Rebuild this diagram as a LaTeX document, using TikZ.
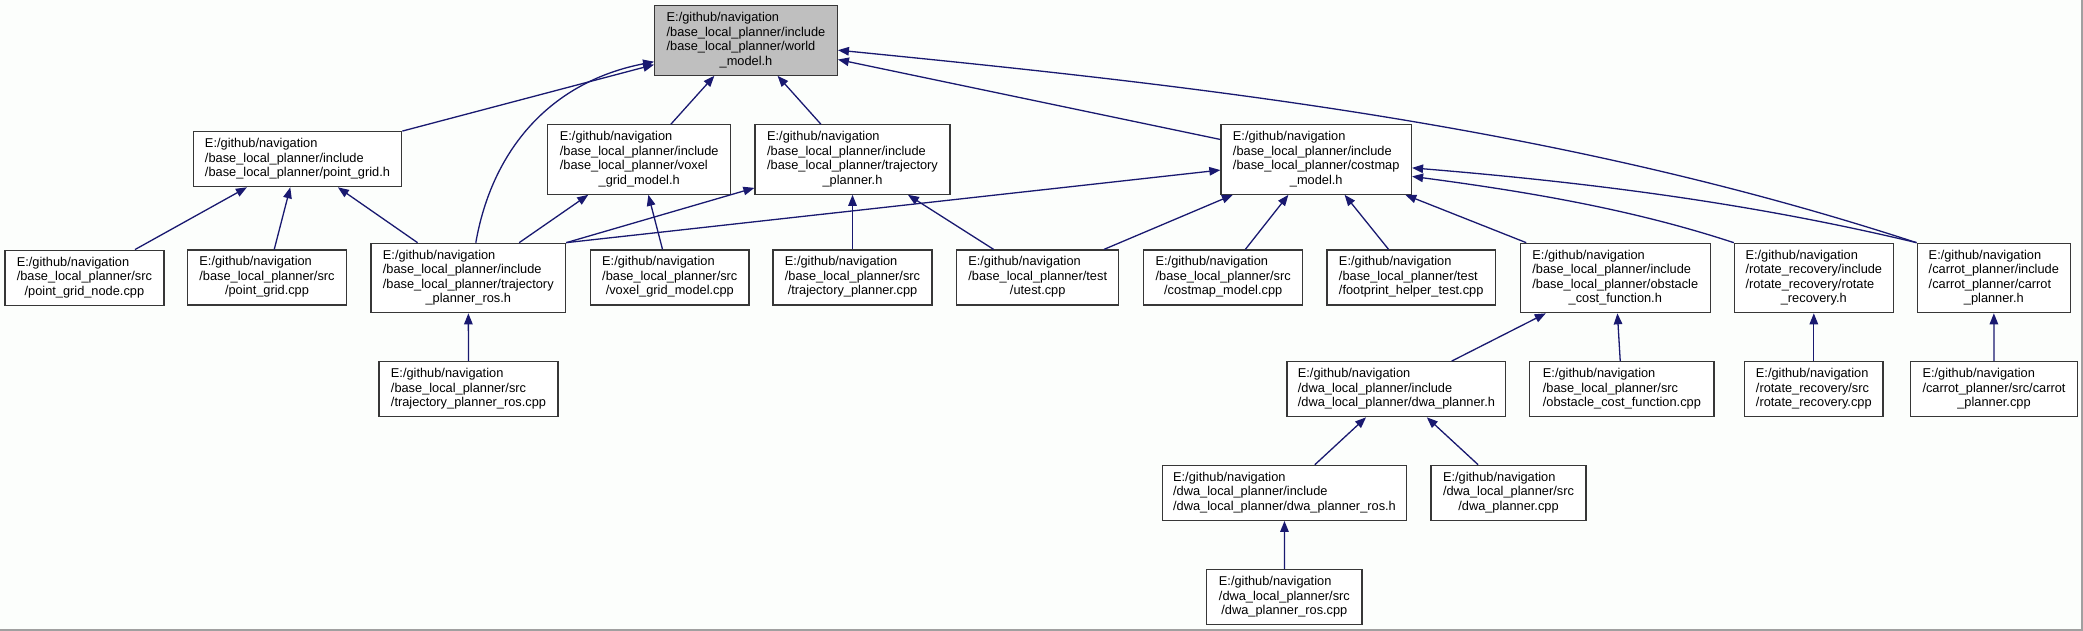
\documentclass[tikz,border=0pt]{standalone}
\usepackage{fontspec}
\setmainfont{Liberation Sans}
\usetikzlibrary{arrows.meta}
\definecolor{edgeblue}{RGB}{25,25,112}
\definecolor{boxline}{RGB}{55,55,55}
\definecolor{rootfill}{RGB}{191,191,191}
\definecolor{bgc}{RGB}{252,254,252}
\definecolor{frameg}{RGB}{160,160,160}
\newcommand{\nlast}[1]{\multicolumn{1}{@{}c@{}}{#1}}
\newcommand{\flbl}[1]{\begin{tabular}{@{}l@{}}#1\end{tabular}}
\tikzset{
  filebox/.style={draw=boxline, fill=white, line width=1.25pt, inner sep=0pt,
    minimum height=55pt, font=\fontsize{12.8}{14.5}\selectfont},
  tall/.style={minimum height=69.4pt},
  rootbox/.style={filebox, tall, fill=rootfill},
  edge/.style={draw=edgeblue, line width=1.3pt, -{Triangle[length=11pt,width=8.5pt]}}
}
\begin{document}
\begin{tikzpicture}[x=1pt,y=-1pt]
\fill[bgc] (0,0) rectangle (2083,631);
\useasboundingbox (0,0) rectangle (2083,631);
\draw[frameg, line width=1.5pt] (0,630.2) -- (2082.2,630.2) -- (2082.2,0);

\node[rootbox, minimum width=182.6pt] (root) at (746,40.5)
  {\flbl{E:/github/navigation\\/base\_local\_planner/include\\/base\_local\_planner/world\\\nlast{\_model.h}}};

\node[filebox, minimum width=208.5pt] (pgh) at (297.5,159.2)
  {\flbl{E:/github/navigation\\/base\_local\_planner/include\\\nlast{/base\_local\_planner/point\_grid.h}}};
\node[filebox, tall, minimum width=183pt] (voxh) at (639.2,159.5)
  {\flbl{E:/github/navigation\\/base\_local\_planner/include\\/base\_local\_planner/voxel\\\nlast{\_grid\_model.h}}};
\node[filebox, tall, minimum width=195pt] (tph) at (852.5,159.5)
  {\flbl{E:/github/navigation\\/base\_local\_planner/include\\/base\_local\_planner/trajectory\\\nlast{\_planner.h}}};
\node[filebox, tall, minimum width=190.5pt] (cmh) at (1316.2,159.5)
  {\flbl{E:/github/navigation\\/base\_local\_planner/include\\/base\_local\_planner/costmap\\\nlast{\_model.h}}};

\node[filebox, minimum width=159pt] (pgn) at (84.4,277.7)
  {\flbl{E:/github/navigation\\/base\_local\_planner/src\\\nlast{/point\_grid\_node.cpp}}};
\node[filebox, minimum width=159pt] (pgc) at (267,277.5)
  {\flbl{E:/github/navigation\\/base\_local\_planner/src\\\nlast{/point\_grid.cpp}}};
\node[filebox, tall, minimum width=194.6pt] (tprh) at (468.3,278)
  {\flbl{E:/github/navigation\\/base\_local\_planner/include\\/base\_local\_planner/trajectory\\\nlast{\_planner\_ros.h}}};
\node[filebox, minimum width=158.4pt] (voxc) at (669.8,277.5)
  {\flbl{E:/github/navigation\\/base\_local\_planner/src\\\nlast{/voxel\_grid\_model.cpp}}};
\node[filebox, minimum width=159pt] (tpc) at (852.5,277.5)
  {\flbl{E:/github/navigation\\/base\_local\_planner/src\\\nlast{/trajectory\_planner.cpp}}};
\node[filebox, minimum width=162.3pt] (utest) at (1037.7,277.5)
  {\flbl{E:/github/navigation\\/base\_local\_planner/test\\\nlast{/utest.cpp}}};
\node[filebox, minimum width=158.7pt] (cmc) at (1223.2,277.5)
  {\flbl{E:/github/navigation\\/base\_local\_planner/src\\\nlast{/costmap\_model.cpp}}};
\node[filebox, minimum width=168.3pt] (fpc) at (1411.2,277.5)
  {\flbl{E:/github/navigation\\/base\_local\_planner/test\\\nlast{/footprint\_helper\_test.cpp}}};
\node[filebox, tall, minimum width=190.3pt] (ocfh) at (1615.3,278)
  {\flbl{E:/github/navigation\\/base\_local\_planner/include\\/base\_local\_planner/obstacle\\\nlast{\_cost\_function.h}}};
\node[filebox, tall, minimum width=158.8pt] (rrh) at (1813.8,278)
  {\flbl{E:/github/navigation\\/rotate\_recovery/include\\/rotate\_recovery/rotate\\\nlast{\_recovery.h}}};
\node[filebox, tall, minimum width=153.3pt] (cph) at (1993.8,278)
  {\flbl{E:/github/navigation\\/carrot\_planner/include\\/carrot\_planner/carrot\\\nlast{\_planner.h}}};

\node[filebox, minimum width=179pt] (tprc) at (468.5,389.2)
  {\flbl{E:/github/navigation\\/base\_local\_planner/src\\\nlast{/trajectory\_planner\_ros.cpp}}};
\node[filebox, minimum width=218.8pt] (dwah) at (1396.4,389.2)
  {\flbl{E:/github/navigation\\/dwa\_local\_planner/include\\\nlast{/dwa\_local\_planner/dwa\_planner.h}}};
\node[filebox, minimum width=184.2pt] (ocfc) at (1621.9,389.2)
  {\flbl{E:/github/navigation\\/base\_local\_planner/src\\\nlast{/obstacle\_cost\_function.cpp}}};
\node[filebox, minimum width=138.5pt] (rrc) at (1813.8,389.2)
  {\flbl{E:/github/navigation\\/rotate\_recovery/src\\\nlast{/rotate\_recovery.cpp}}};
\node[filebox, minimum width=166.9pt] (cpc) at (1994,389.2)
  {\flbl{E:/github/navigation\\/carrot\_planner/src/carrot\\\nlast{\_planner.cpp}}};

\node[filebox, minimum width=244pt] (dwarh) at (1284.5,492.8)
  {\flbl{E:/github/navigation\\/dwa\_local\_planner/include\\\nlast{/dwa\_local\_planner/dwa\_planner\_ros.h}}};
\node[filebox, minimum width=155pt] (dwac) at (1508.5,492.8)
  {\flbl{E:/github/navigation\\/dwa\_local\_planner/src\\\nlast{/dwa\_planner.cpp}}};
\node[filebox, minimum width=155.3pt] (dwarc) at (1284.4,597.2)
  {\flbl{E:/github/navigation\\/dwa\_local\_planner/src\\\nlast{/dwa\_planner\_ros.cpp}}};

% edges to root
\draw[edge] (pgh.north east) -- (root);
\draw[edge] (tprh.78) .. controls (492,150) and (550,82) .. (root.193);
\draw[edge] (voxh) -- (root);
\draw[edge] (tph) -- (root);
\draw[edge] (cmh) -- (root);
\draw[edge] (cph.north west) .. controls (1557,125.2) and (1198.8,86) .. (root.354);
% edges to point_grid.h
\draw[edge] (pgn) -- (pgh);
\draw[edge] (pgc) -- (pgh);
\draw[edge] (tprh) -- (pgh);
% voxel
\draw[edge] (tprh) -- (voxh);
\draw[edge] (voxc) -- (voxh);
% trajectory_planner.h
\draw[edge] (tprh.north east) -- (tph);
\draw[edge] (tpc) -- (tph);
\draw[edge] (utest) -- (tph);
% costmap_model.h
\draw[edge] (tprh.north east) -- (cmh);
\draw[edge] (utest) -- (cmh);
\draw[edge] (cmc) -- (cmh);
\draw[edge] (fpc) -- (cmh);
\draw[edge] (ocfh) -- (cmh);
\draw[edge] (rrh.north west) .. controls (1634.5,210) and (1532,192.3) .. (cmh.350);
\draw[edge] (cph.north west) .. controls (1766.6,206.8) and (1612,184.3) .. (cmh.355);
% lower levels
\draw[edge] (tprc) -- (tprh);
\draw[edge] (dwah) -- (ocfh);
\draw[edge] (ocfc) -- (ocfh);
\draw[edge] (rrc) -- (rrh);
\draw[edge] (cpc) -- (cph);
\draw[edge] (dwarh) -- (dwah);
\draw[edge] (dwac) -- (dwah);
\draw[edge] (dwarc) -- (dwarh);
\end{tikzpicture}
\end{document}
